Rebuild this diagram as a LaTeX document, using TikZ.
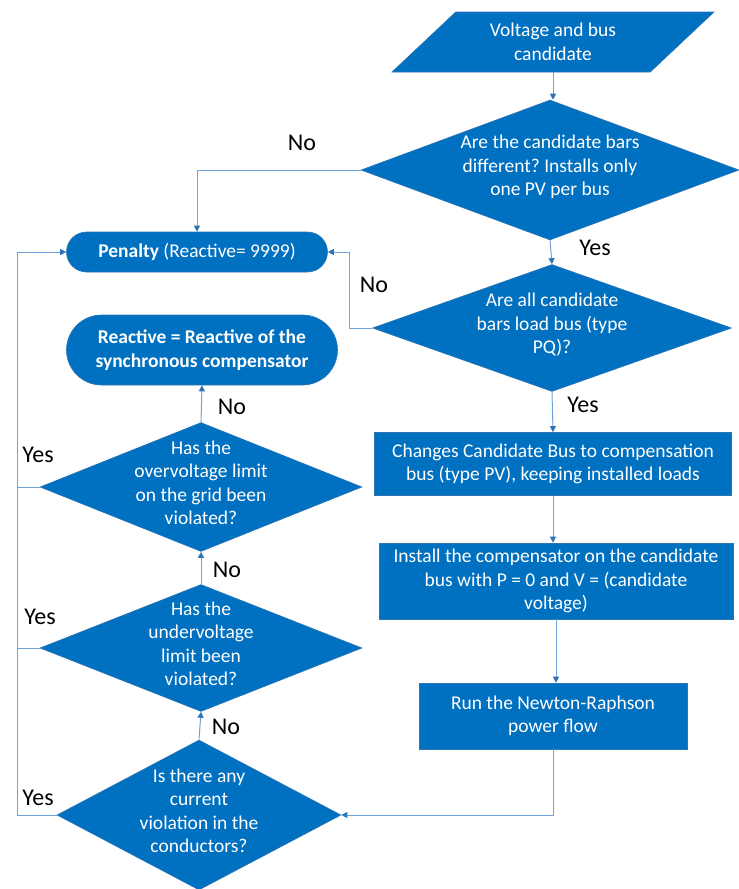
\documentclass[tikz,border=0pt]{standalone}
\usepackage{fontspec}
\setmainfont{Carlito}
\usepackage{xcolor}
\usetikzlibrary{arrows.meta,shapes.geometric,shapes.misc}
\definecolor{boxblue}{HTML}{0070C0}
\definecolor{edgeblue}{HTML}{2E75B6}
\definecolor{linkblue}{HTML}{6FA3DC}
\frenchspacing
\newcommand{\dtxt}[1]{\raisebox{-.3em}{\makebox[0pt]{\smash{\begin{tabular}{@{}c@{}}#1\end{tabular}}}}}
\begin{document}
\begin{tikzpicture}[x=1pt,y=-1pt,>={Triangle[length=6pt,width=6pt]},
  base/.style={fill=boxblue,draw=edgeblue,line width=0.6pt,text=white,inner sep=0pt,font=\fontsize{19.5}{23.5}\selectfont,align=center},
  dec/.style={base,diamond},
  proc/.style={base,rectangle},
  term/.style={base,rounded rectangle},
  io/.style={base,trapezium,trapezium left angle=42,trapezium right angle=138,trapezium stretches=true},
  lbl/.style={font=\fontsize{24}{28}\selectfont},
  ln/.style={draw=linkblue,line width=1pt,arrows={->[color=edgeblue]}}]
\useasboundingbox (0,0) rectangle (739,889);
\node[io,minimum width=323,minimum height=60] (inp) at (553,42) {Voltage and bus\\candidate};
\node[dec,minimum width=378,minimum height=140] (d1) at (550,170) {\dtxt{Are the candidate bars\\different? Installs only\\one PV per bus}};
\node[dec,minimum width=359,minimum height=127] (d2) at (552,328) {\dtxt{Are all candidate\\bars load bus (type\\PQ)?}};
\node[proc,minimum width=357,minimum height=63] (b1) at (553,464) {Changes Candidate Bus to compensation\\bus (type PV), keeping installed loads};
\node[proc,minimum width=354,minimum height=76] (b2) at (556,581) {Install the compensator on the candidate\\bus with P = 0 and V = (candidate\\voltage)};
\node[proc,minimum width=268,minimum height=66] (b3) at (553,716) {Run the Newton-Raphson\\power flow};
\node[term,minimum width=261,minimum height=40] (pen) at (197,252) {\textbf{Penalty} (Reactive= 9999)};
\node[term,minimum width=271,minimum height=70] (rea) at (202,350) {\textbf{Reactive = Reactive of the}\\\textbf{synchronous compensator}};
\node[dec,minimum width=322,minimum height=129] (dov) at (201,487) {\dtxt{Has the\\overvoltage limit\\on the grid been\\violated?}};
\node[dec,minimum width=322,minimum height=127] (dun) at (201,648) {\dtxt{Has the\\undervoltage\\limit been\\violated?}};
\node[dec,minimum width=284,minimum height=150] (dcu) at (199,815) {\dtxt{Is there any\\current\\violation in the\\conductors?}};
\coordinate (rail) at (17,0);
% right column
\draw[ln] (inp.south) -- (inp.south |- d1.north);
\draw[ln] (d1.west) -| (pen.north);
\draw[ln] (d1.south) -- (d2.north);
\draw[ln] (d2.west) -- ++(-23,0) |- (pen.east);
\draw[ln] (d2.south) -- (b1.north);
\draw[ln] (b1.south) -- (b1.south |- b2.north);
\draw[ln] (b2.south) -- (b2.south |- b3.north);
\draw[ln] (b3.south) |- (dcu.east);
% left column
\draw[ln] (dcu.north) -- (dun.south);
\draw[ln] (dun.north) -- (dov.south);
\draw[ln] (dov.north) -- (rea.south);
\draw[ln] (dcu.west) -- (dcu.west -| rail) |- (pen.west);
\draw[ln,-] (dun.west) -- (dun.west -| rail);
\draw[ln,-] (dov.west) -- (dov.west -| rail);
% labels
\node[lbl] (no1) at (302,143) {No};
\node[lbl] (yes1) at (595,248) {Yes};
\node[lbl] (no2) at (374,285) {No};
\node[lbl] (yes2) at (583,405) {Yes};
\node[lbl] (no3) at (232,407) {No};
\node[lbl] (yes3) at (38,455) {Yes};
\node[lbl] (no4) at (227,570) {No};
\node[lbl] (yes4) at (40,617) {Yes};
\node[lbl] (no5) at (226,727) {No};
\node[lbl] (yes5) at (38,798) {Yes};
\end{tikzpicture}
\end{document}
